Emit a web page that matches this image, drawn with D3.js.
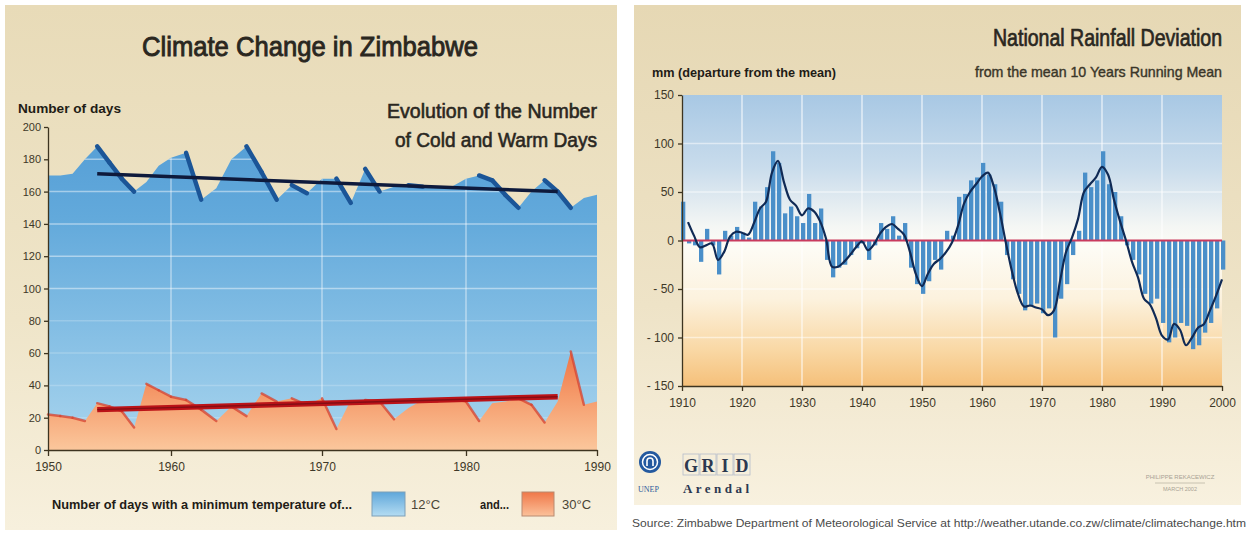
<!DOCTYPE html>
<html>
<head>
<meta charset="utf-8">
<script src="https://cdn.jsdelivr.net/npm/d3@7"></script>
<style>
  body { margin: 0; background: #fff; }
  svg { display: block; font-family: "Liberation Sans", Arial, sans-serif; }
  .axis path, .axis line { stroke: #3d3420; stroke-width: 1.3; }
  .axis text { fill: #3e3828; }
</style>
</head>
<body>
<svg id="chart" width="1249" height="535"></svg>
<script>
// ---- data: left chart (days per year)
const tempYears = d3.range(1950, 1991)
const coldDays = [170, 170, 171, 180, 188, 178, 168, 160, 166, 176,
                  181, 184, 155, 162, 180, 188, 172, 155, 164, 159,
                  168, 168, 153, 174, 160, 163, 164, 163, 163, 163,
                  168, 170, 167, 158, 150, 160, 167, 160, 150, 156, 158]
const warmDays = [22, 21, 20, 18, 29, 27, 24, 14, 41, 37,
                  33, 31, 25, 18, 27, 21, 35, 30, 32, 28,
                  32, 13, 31, 31, 30, 19, 26, 31, 30, 32,
                  30, 18, 29, 30, 32, 28, 17, 30, 61, 28, 30]
const trendYears = [1954, 1987]
const coldTrend = [171, 160]
const warmTrend = [25, 33]
const leftYTicks = [0, 20, 40, 60, 80, 100, 120, 140, 160, 180, 200]
const leftXTicks = [1950, 1960, 1970, 1980, 1990]

// ---- data: right chart (mm departure from the mean)
const rainYears = d3.range(1910, 2001)
const rainBars = [40, -3, -5, -22, 12, -5, -35, 10, 5, 14,
                  8, 3, 40, 35, 55, 92, 80, 28, 35, 25,
                  18, 48, 18, 33, -20, -38, -28, -25, -15, -8,
                  -3, -20, -5, 18, 12, 25, 5, 18, -28, -45,
                  -55, -42, -20, -30, 10, 5, 45, 48, 62, 65,
                  80, 68, 58, 40, -15, -40, -55, -72, -68, -65,
                  -75, -70, -100, -60, -45, -15, 10, 70, 55, 62,
                  92, 58, 50, 25, -5, -20, -35, -55, -65, -60,
                  -85, -105, -100, -85, -88, -112, -108, -95, -85, -70, -30]
const meanYears = d3.range(1911, 2001)
const runningMean = [19, 5, -7, -5, -3, -20, -12, 4, 9,
                     8, 6, 18, 33, 40, 70, 82, 60, 42, 36,
                     26, 33, 30, 20, 2, -27, -27, -22, -15, -7,
                     -1, -10, -4, 7, 14, 17, 12, 6, -12, -35,
                     -47, -34, -24, -19, -12, -2, 15, 38, 50, 58,
                     66, 70, 55, 28, -3, -32, -55, -68, -67, -69,
                     -71, -77, -72, -42, -12, 3, 22, 50, 58, 65,
                     76, 68, 42, 20, 0, -22, -38, -60, -66, -80,
                     -98, -102, -86, -92, -108, -100, -90, -86, -72, -57, -40]
const rightYTicks = [-150, -100, -50, 0, 50, 100, 150]
const rightXTicks = [1910, 1920, 1930, 1940, 1950, 1960, 1970, 1980, 1990, 2000]

const svg = d3.select("#chart")
const defs = svg.append("defs")

function addGradient(id, y1, y2, stops) {
  const g = defs.append("linearGradient")
    .attr("id", id)
    .attr("gradientUnits", "userSpaceOnUse")
    .attr("x1", 0).attr("x2", 0).attr("y1", y1).attr("y2", y2)
  stops.forEach(s => g.append("stop").attr("offset", s[0]).attr("stop-color", s[1]))
}

// panel backgrounds
addGradient("bgLeft", 5, 530, [[0, "#e8dbb8"], [0.6, "#efe5c9"], [1, "#f7f0dd"]])
addGradient("bgRight", 5, 505, [[0, "#e6d8b4"], [0.6, "#eee3c7"], [1, "#f8f1df"]])
addGradient("blueFill", 140, 450, [[0, "#569fd6"], [0.25, "#62a9db"], [1, "#a9d5ee"]])
addGradient("redFill", 350, 450, [[0, "#ee7245"], [0.45, "#f59a6a"], [1, "#fbc79c"]])
addGradient("rainBg", 95, 386, [[0, "#a8c8e4"], [0.25, "#c9dcec"], [0.45, "#f4f6f4"], [0.52, "#fdfcf6"],
                                 [0.7, "#fcf2de"], [0.88, "#f9d7a3"], [1, "#f5c07a"]])
addGradient("blueSwatch", 492, 516, [[0, "#5fa7da"], [1, "#b4dcf2"]])
addGradient("redSwatch", 492, 516, [[0, "#ef7748"], [1, "#fbc19a"]])

svg.append("rect").attr("x", 5).attr("y", 5).attr("width", 612).attr("height", 525).attr("fill", "url(#bgLeft)")
svg.append("rect").attr("x", 634).attr("y", 5).attr("width", 607).attr("height", 500).attr("fill", "url(#bgRight)")

// ================= LEFT CHART =================
const xLeft = d3.scaleLinear().domain(leftXTicks).range([48, 171, 322, 466, 597])
const yLeft = d3.scaleLinear().domain([0, 200]).range([450, 127])

const coldData = tempYears.map((y, i) => ({year: y, value: coldDays[i]}))
const warmData = tempYears.map((y, i) => ({year: y, value: warmDays[i]}))

const areaLeft = d3.area()
  .x(d => xLeft(d.year))
  .y0(yLeft(0))
  .y1(d => yLeft(d.value))

// clip for the grid: only visible inside the blue area
defs.append("clipPath").attr("id", "coldClip")
  .append("path").attr("d", areaLeft(coldData))

svg.append("path")
  .attr("d", areaLeft(coldData))
  .attr("fill", "url(#blueFill)")

const gridLeft = svg.append("g").attr("clip-path", "url(#coldClip)")
gridLeft.selectAll("line.h")
  .data(leftYTicks.filter(d => d > 0 && d < 200))
  .join("line")
    .attr("x1", xLeft(1950)).attr("x2", xLeft(1990))
    .attr("y1", d => yLeft(d)).attr("y2", d => yLeft(d))
    .attr("stroke", "#fff").attr("stroke-opacity", d => d >= 100 ? 0.45 : 0.2).attr("stroke-width", 1.5)
gridLeft.selectAll("line.v")
  .data([1960, 1970, 1980])
  .join("line")
    .attr("x1", d => xLeft(d)).attr("x2", d => xLeft(d))
    .attr("y1", yLeft(200)).attr("y2", yLeft(0))
    .attr("stroke", "#fff").attr("stroke-opacity", 0.45).attr("stroke-width", 1.5)

// falling edges drawn darker, like a ribbon side
function fallingSegments(data) {
  const segs = []
  for (let i = 1; i < data.length; i++) {
    if (data[i].value < data[i - 1].value) segs.push([data[i - 1], data[i]])
  }
  return segs
}
const segLine = d3.line().x(d => xLeft(d.year)).y(d => yLeft(d.value))

svg.append("g").selectAll("path")
  .data(fallingSegments(coldData))
  .join("path")
    .attr("d", segLine)
    .attr("fill", "none")
    .attr("stroke", "#1b5597")
    .attr("stroke-width", 4.5)
    .attr("stroke-linecap", "round")

svg.append("path")
  .attr("d", areaLeft(warmData))
  .attr("fill", "url(#redFill)")

svg.append("g").selectAll("path")
  .data(fallingSegments(warmData))
  .join("path")
    .attr("d", segLine)
    .attr("fill", "none")
    .attr("stroke", "#d8422e")
    .attr("stroke-opacity", 0.75)
    .attr("stroke-width", 2.5)
    .attr("stroke-linecap", "round")

// trend lines
const trendLine = d3.line().x(d => xLeft(d[0])).y(d => yLeft(d[1]))
svg.append("path")
  .attr("d", trendLine(trendYears.map((y, i) => [y, coldTrend[i]])))
  .attr("stroke", "#0e1a3c").attr("stroke-width", 3.5).attr("fill", "none")
svg.append("path")
  .attr("d", trendLine(trendYears.map((y, i) => [y, warmTrend[i]])))
  .attr("stroke", "#bb1318").attr("stroke-width", 5.5).attr("fill", "none")
svg.append("path")
  .attr("d", trendLine(trendYears.map((y, i) => [y, warmTrend[i]])))
  .attr("stroke", "#6e0b14").attr("stroke-width", 1.5).attr("fill", "none").attr("stroke-opacity", 0.7)

// axes
svg.append("g")
  .attr("class", "axis")
  .attr("transform", `translate(${xLeft(1950)},0)`)
  .call(d3.axisLeft(yLeft).tickValues(leftYTicks).tickSize(4).tickSizeOuter(0).tickPadding(3))
  .call(g => g.selectAll("text").attr("font-size", 11))

svg.append("g")
  .attr("class", "axis")
  .attr("transform", `translate(0,${yLeft(0)})`)
  .call(d3.axisBottom(xLeft).tickValues(leftXTicks).tickFormat(d3.format("d")).tickSize(6).tickSizeOuter(0).tickPadding(6))
  .call(g => g.selectAll("text").attr("font-size", 12))

// titles
svg.append("text")
  .attr("x", 310).attr("y", 56).attr("text-anchor", "middle")
  .attr("font-size", 28).attr("fill", "#2a271f").attr("stroke", "#2a271f").attr("stroke-width", 0.9)
  .attr("textLength", 336).attr("lengthAdjust", "spacingAndGlyphs")
  .text("Climate Change in Zimbabwe")

svg.append("text")
  .attr("x", 18).attr("y", 113)
  .attr("font-size", 12).attr("font-weight", "bold").attr("fill", "#1f1c16")
  .attr("textLength", 103).attr("lengthAdjust", "spacingAndGlyphs")
  .text("Number of days")

svg.append("text")
  .attr("x", 597).attr("y", 118).attr("text-anchor", "end")
  .attr("font-size", 20).attr("fill", "#2a271f").attr("stroke", "#2a271f").attr("stroke-width", 0.6)
  .attr("textLength", 210).attr("lengthAdjust", "spacingAndGlyphs")
  .text("Evolution of the Number")
svg.append("text")
  .attr("x", 597).attr("y", 147).attr("text-anchor", "end")
  .attr("font-size", 20).attr("fill", "#2a271f").attr("stroke", "#2a271f").attr("stroke-width", 0.6)
  .attr("textLength", 202).attr("lengthAdjust", "spacingAndGlyphs")
  .text("of Cold and Warm Days")

// legend
svg.append("text")
  .attr("x", 52).attr("y", 509)
  .attr("font-size", 12).attr("font-weight", "bold").attr("fill", "#1f1c16")
  .attr("textLength", 300).attr("lengthAdjust", "spacingAndGlyphs")
  .text("Number of days with a  minimum temperature of...")
svg.append("rect").attr("x", 372).attr("y", 492).attr("width", 33).attr("height", 24)
  .attr("fill", "url(#blueSwatch)").attr("stroke", "#7d9fb8").attr("stroke-width", 1)
svg.append("text").attr("x", 411).attr("y", 509).attr("font-size", 12).attr("fill", "#4a4536")
  .attr("textLength", 29).attr("lengthAdjust", "spacingAndGlyphs").text("12°C")
svg.append("text").attr("x", 480).attr("y", 509).attr("font-size", 12).attr("font-weight", "bold").attr("fill", "#1f1c16")
  .attr("textLength", 29).attr("lengthAdjust", "spacingAndGlyphs").text("and...")
svg.append("rect").attr("x", 522).attr("y", 492).attr("width", 32).attr("height", 24)
  .attr("fill", "url(#redSwatch)").attr("stroke", "#b88a70").attr("stroke-width", 1)
svg.append("text").attr("x", 562).attr("y", 509).attr("font-size", 12).attr("fill", "#4a4536")
  .attr("textLength", 29).attr("lengthAdjust", "spacingAndGlyphs").text("30°C")

// ================= RIGHT CHART =================
const xRight = d3.scaleLinear().domain([1910, 2000]).range([682, 1222])
const yRight = d3.scaleLinear().domain([-150, 150]).range([386, 95])

svg.append("rect")
  .attr("x", xRight(1910)).attr("y", yRight(150))
  .attr("width", xRight(2000) - xRight(1910)).attr("height", yRight(-150) - yRight(150))
  .attr("fill", "url(#rainBg)")

const gridRight = svg.append("g")
gridRight.selectAll("line.v")
  .data(rightXTicks.slice(1, -1))
  .join("line")
    .attr("x1", d => xRight(d)).attr("x2", d => xRight(d))
    .attr("y1", yRight(150)).attr("y2", yRight(-150))
    .attr("stroke", "#fff").attr("stroke-opacity", 0.75).attr("stroke-width", 1.3)
gridRight.selectAll("line.h")
  .data([-100, -50, 50, 100])
  .join("line")
    .attr("x1", xRight(1910)).attr("x2", xRight(2000))
    .attr("y1", d => yRight(d)).attr("y2", d => yRight(d))
    .attr("stroke", "#fff").attr("stroke-opacity", 0.5).attr("stroke-width", 1.3)

const rainData = rainYears.map((y, i) => ({year: y, value: rainBars[i]}))
svg.append("g").selectAll("rect")
  .data(rainData)
  .join("rect")
    .attr("x", d => xRight(d.year) - 1)
    .attr("width", 4.3)
    .attr("y", d => yRight(Math.max(0, d.value)))
    .attr("height", d => Math.abs(yRight(d.value) - yRight(0)))
    .attr("fill", "#4a8fc9")

svg.append("line")
  .attr("x1", xRight(1910)).attr("x2", xRight(2000))
  .attr("y1", yRight(0)).attr("y2", yRight(0))
  .attr("stroke", "#c93a5e").attr("stroke-width", 2)

const meanData = meanYears.map((y, i) => ({year: y, value: runningMean[i]}))
svg.append("path")
  .attr("d", d3.line().x(d => xRight(d.year)).y(d => yRight(d.value)).curve(d3.curveCatmullRom.alpha(0.5))(meanData))
  .attr("fill", "none")
  .attr("stroke", "#102a55")
  .attr("stroke-width", 2.2)

svg.append("g")
  .attr("class", "axis")
  .attr("transform", `translate(${xRight(1910)},0)`)
  .call(d3.axisLeft(yRight).tickValues(rightYTicks).tickSize(4).tickSizeOuter(0).tickPadding(4)
    .tickFormat(d => d < 0 ? "- " + Math.abs(d) : d))
  .call(g => g.selectAll("text").attr("font-size", 12))

svg.append("g")
  .attr("class", "axis")
  .attr("transform", `translate(0,${yRight(-150)})`)
  .call(d3.axisBottom(xRight).tickValues(rightXTicks).tickFormat(d3.format("d")).tickSize(5).tickSizeOuter(0).tickPadding(7))
  .call(g => g.selectAll("text").attr("font-size", 12))

// title is set a little smaller and stretched upward so its glyphs keep their height
svg.append("text")
  .attr("transform", "translate(1222,46) scale(1,1.15)")
  .attr("text-anchor", "end")
  .attr("font-size", 20).attr("fill", "#2a271f").attr("stroke", "#2a271f").attr("stroke-width", 0.6)
  .attr("textLength", 229).attr("lengthAdjust", "spacingAndGlyphs")
  .text("National Rainfall Deviation")
svg.append("text")
  .attr("x", 1222).attr("y", 77).attr("text-anchor", "end")
  .attr("font-size", 15).attr("fill", "#3a3629").attr("stroke", "#3a3629").attr("stroke-width", 0.4)
  .attr("textLength", 247).attr("lengthAdjust", "spacingAndGlyphs")
  .text("from the mean 10 Years Running Mean")
svg.append("text")
  .attr("x", 652).attr("y", 77)
  .attr("font-size", 12).attr("font-weight", "bold").attr("fill", "#1f1c16")
  .attr("textLength", 184).attr("lengthAdjust", "spacingAndGlyphs")
  .text("mm (departure from the mean)")

// logos and credits
const unep = svg.append("g").attr("transform", "translate(650,462)")
unep.append("circle").attr("r", 11).attr("fill", "#24599f")
unep.append("circle").attr("r", 7.5).attr("fill", "none").attr("stroke", "#fff").attr("stroke-width", 1.5)
unep.append("path").attr("d", "M-3,4 L-3,-1 A3,3 0 0 1 3,-1 L3,4").attr("fill", "none").attr("stroke", "#fff").attr("stroke-width", 1.6)
svg.append("text").attr("x", 638).attr("y", 492).attr("font-size", 8).attr("font-family", "Liberation Serif, serif")
  .attr("fill", "#2d5c9c").text("UNEP")

const gridLetters = ["G", "R", "I", "D"]
svg.append("g").selectAll("rect")
  .data(gridLetters)
  .join("rect")
    .attr("x", (d, i) => 683 + i * 17)
    .attr("y", 454).attr("width", 16).attr("height", 21)
    .attr("fill", "none").attr("stroke", "#b4bccb").attr("stroke-width", 0.8)
svg.append("g").selectAll("text")
  .data(gridLetters)
  .join("text")
    .attr("x", (d, i) => 691 + i * 17)
    .attr("y", 472)
    .attr("text-anchor", "middle")
    .attr("font-family", "Liberation Serif, serif")
    .attr("font-weight", "bold")
    .attr("font-size", 18)
    .attr("fill", "#2c3850")
    .text(d => d)
svg.append("text").attr("x", 683).attr("y", 493)
  .attr("font-family", "Liberation Serif, serif").attr("font-weight", "bold").attr("font-size", 13)
  .attr("fill", "#2c3850").attr("textLength", 66).attr("lengthAdjust", "spacing")
  .text("Arendal")

svg.append("text").attr("x", 1180).attr("y", 479).attr("text-anchor", "middle")
  .attr("font-size", 6).attr("fill", "#a8a294").text("PHILIPPE REKACEWICZ")
svg.append("line").attr("x1", 1155).attr("x2", 1205).attr("y1", 483).attr("y2", 483)
  .attr("stroke", "#c8c2b0").attr("stroke-width", 1)
svg.append("text").attr("x", 1180).attr("y", 491).attr("text-anchor", "middle")
  .attr("font-size", 5.5).attr("fill", "#a8a294").text("MARCH 2002")

// source line
svg.append("text")
  .attr("x", 632).attr("y", 527)
  .attr("font-size", 11.5).attr("fill", "#4a4a4a")
  .attr("textLength", 614).attr("lengthAdjust", "spacingAndGlyphs")
  .text("Source: Zimbabwe Department of Meteorological Service at http://weather.utande.co.zw/climate/climatechange.htm")
</script>
</body>
</html>
